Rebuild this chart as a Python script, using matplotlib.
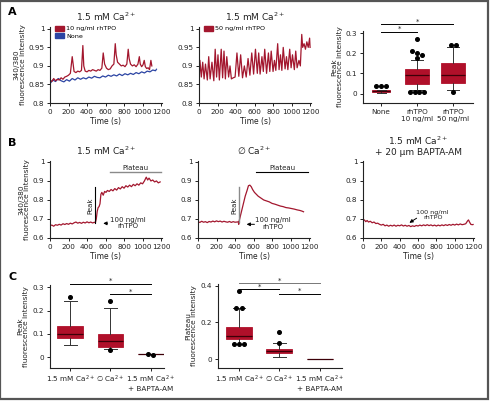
import numpy as np
import matplotlib
matplotlib.use("Agg")
from matplotlib import pyplot as plt
from matplotlib.patches import Patch, Rectangle

# ---- traces (time in s, 340/380 ratio) ----
a1_red_t = [0,20,40,60,80,100,120,140,160,180,200,220,240,250,260,280,300,320,340,355,365,380,400,420,440,460,480,500,520,540,560,575,590,610,630,650,670,690,705,715,730,750,770,790,810,830,845,855,870,890,910,930,950,965,975,990,1005,1018,1030,1045,1060,1075,1090,1100]
a1_red_v = [0.862,0.858,0.866,0.860,0.864,0.862,0.868,0.864,0.870,0.872,0.875,0.880,0.925,0.905,0.885,0.882,0.886,0.884,0.888,0.955,0.900,0.886,0.884,0.888,0.886,0.890,0.888,0.886,0.890,0.888,0.894,0.935,0.905,0.894,0.890,0.892,0.900,0.905,0.960,0.930,0.910,0.905,0.900,0.902,0.898,0.905,0.945,0.920,0.905,0.900,0.903,0.898,0.905,0.925,0.905,0.898,0.903,0.915,0.898,0.893,0.895,0.890,0.915,0.900]
a1_blue_t = [0,30,60,90,120,150,180,210,240,270,300,330,360,390,420,450,480,510,540,570,600,630,660,690,720,750,780,810,840,870,900,930,960,990,1020,1050,1080,1110,1140,1150]
a1_blue_v = [0.852,0.862,0.858,0.866,0.860,0.857,0.863,0.859,0.866,0.862,0.868,0.864,0.868,0.865,0.870,0.867,0.872,0.869,0.868,0.873,0.870,0.875,0.872,0.876,0.873,0.878,0.874,0.879,0.876,0.880,0.877,0.882,0.879,0.884,0.881,0.886,0.884,0.889,0.887,0.891]

a2_t = [0,10,25,40,55,70,90,105,120,140,160,175,190,205,220,240,255,270,285,300,320,335,350,370,390,410,430,450,470,490,510,530,550,570,590,610,630,645,660,680,695,710,730,750,765,780,800,815,830,850,865,880,895,910,930,945,960,980,995,1010,1030,1045,1060,1080,1095,1110,1120,1135,1150,1165,1180,1195,1200]
a2_v = [0.850,0.915,0.870,0.910,0.865,0.905,0.862,0.925,0.865,0.910,0.860,0.945,0.870,0.930,0.862,0.945,0.868,0.940,0.865,0.925,0.870,0.900,0.865,0.868,0.870,0.935,0.872,0.930,0.868,0.900,0.870,0.920,0.875,0.935,0.878,0.945,0.880,0.935,0.878,0.925,0.885,0.945,0.880,0.935,0.885,0.940,0.885,0.915,0.888,0.960,0.890,0.930,0.888,0.950,0.892,0.925,0.890,0.945,0.895,0.930,0.890,0.940,0.895,0.915,0.900,0.985,0.950,0.960,0.945,0.965,0.950,0.975,0.950]

b1_t = [0,20,40,60,80,100,120,140,160,180,200,220,240,260,280,300,320,340,360,380,400,420,440,460,480,490,500,510,520,530,540,550,560,575,590,605,620,640,660,680,700,720,740,760,780,800,820,840,860,880,900,920,940,960,980,1000,1020,1040,1055,1070,1090,1110,1130,1150,1170,1190]
b1_v = [0.665,0.668,0.662,0.670,0.667,0.672,0.668,0.675,0.671,0.676,0.672,0.678,0.674,0.680,0.684,0.678,0.682,0.677,0.683,0.679,0.685,0.680,0.684,0.679,0.683,0.680,0.700,0.740,0.760,0.765,0.780,0.830,0.840,0.825,0.845,0.840,0.850,0.845,0.855,0.848,0.860,0.852,0.865,0.858,0.870,0.862,0.875,0.868,0.878,0.870,0.882,0.875,0.885,0.878,0.890,0.885,0.900,0.920,0.905,0.915,0.900,0.905,0.895,0.900,0.890,0.895]

b2_t = [0,20,40,60,80,100,120,140,160,180,200,220,240,260,280,300,320,340,360,380,400,420,435,440,445,450,470,490,510,530,545,560,575,590,610,630,650,680,710,740,770,800,830,860,890,920,950,980,1010,1040,1070,1100,1120,1140]
b2_v = [0.685,0.682,0.688,0.683,0.686,0.681,0.687,0.684,0.689,0.685,0.690,0.686,0.689,0.684,0.688,0.685,0.683,0.687,0.682,0.686,0.683,0.684,0.685,0.672,0.690,0.700,0.740,0.780,0.820,0.850,0.875,0.878,0.870,0.855,0.840,0.830,0.820,0.810,0.800,0.795,0.790,0.782,0.778,0.773,0.768,0.765,0.760,0.758,0.755,0.752,0.748,0.745,0.742,0.738]

b3_t = [0,15,30,45,60,80,100,120,140,160,180,200,220,240,260,280,300,320,340,360,380,400,420,440,460,480,500,520,540,560,580,600,620,640,660,680,700,720,740,760,780,800,820,840,860,880,900,920,940,960,980,1000,1020,1040,1060,1080,1100,1120,1140,1150,1160,1175,1190,1200]
b3_v = [0.690,0.695,0.686,0.692,0.684,0.688,0.680,0.684,0.676,0.678,0.672,0.668,0.672,0.664,0.668,0.662,0.667,0.663,0.668,0.662,0.667,0.664,0.669,0.663,0.667,0.662,0.666,0.660,0.664,0.661,0.666,0.663,0.668,0.664,0.669,0.665,0.670,0.665,0.669,0.664,0.668,0.663,0.668,0.664,0.669,0.665,0.670,0.666,0.671,0.667,0.672,0.668,0.673,0.669,0.674,0.670,0.672,0.675,0.690,0.695,0.685,0.672,0.670,0.671]

# ---- box plot summaries ----
a3_labels = ["None", "rhTPO\n10 ng/ml", "rhTPO\n50 ng/ml"]
a3_q1 = [0.010, 0.050, 0.055]
a3_med = [0.015, 0.090, 0.090]
a3_q3 = [0.020, 0.120, 0.150]
a3_lo = [0.005, 0.020, 0.020]
a3_hi = [0.020, 0.165, 0.230]
a3_fliers = [[0.040, 0.037, 0.040],
             [0.270, 0.210, 0.200, 0.190, 0.175, 0.010, 0.010, 0.010, 0.010],
             [0.240, 0.240, 0.010]]

c_labels = ["1.5 mM Ca$^{2+}$", "\u2205 Ca$^{2+}$", "1.5 mM Ca$^{2+}$\n+ BAPTA-AM"]
c1_q1 = [0.080, 0.045, 0.012]
c1_med = [0.100, 0.070, 0.012]
c1_q3 = [0.135, 0.100, 0.012]
c1_lo = [0.050, 0.035, 0.012]
c1_hi = [0.240, 0.210, 0.012]
c1_fliers = [[0.260], [0.240, 0.030], [0.010, 0.014]]

c2_q1 = [0.110, 0.035, 0.0]
c2_med = [0.125, 0.045, 0.0]
c2_q3 = [0.175, 0.055, 0.0]
c2_lo = [0.080, 0.010, 0.0]
c2_hi = [0.280, 0.090, 0.0]
c2_fliers = [[0.370, 0.280, 0.280, 0.080, 0.080, 0.080], [0.150, 0.090], []]

RED = "#a3172e"
BLUE = "#2b44a3"
BOXRED = "#b0102a"
TXT = "#222222"

plt.rcParams['font.family'] = ['DejaVu Sans']
plt.rcParams['mathtext.default'] = 'regular'

fig = plt.figure(figsize=(4.9, 4.01), dpi=100)
W, H = 490.0, 401.0


def add_ax(x0, x1, y0, y1):
    # pixel box -> figure fraction
    return fig.add_axes([x0 / W, 1 - y1 / H, (x1 - x0) / W, (y1 - y0) / H])


def style(ax):
    for s in ['top', 'right']:
        ax.spines[s].set_visible(False)
    for s in ['left', 'bottom']:
        ax.spines[s].set_linewidth(0.8)
        ax.spines[s].set_color(TXT)
    ax.tick_params(direction='out', length=2.5, width=0.7, labelsize=5.2, pad=1.5, colors=TXT)


def trace_ax(ax, ylo, yticks, ylabels):
    style(ax)
    ax.set_xlim(0, 1210)
    ax.set_xticks(range(0, 1201, 200))
    ax.set_ylim(ylo, yticks[-1] + 0.005)
    ax.set_yticks(yticks)
    ax.set_yticklabels(ylabels)
    ax.set_xlabel("Time (s)", fontsize=5.5, labelpad=2, color=TXT)


def jitter(vals, pos, step=0.13, tol=0.012):
    # points closer than tol are spread side by side
    xs, ys = [], []
    groups = []
    for v in sorted(vals, reverse=True):
        if groups and abs(groups[-1][-1] - v) <= tol:
            groups[-1].append(v)
        else:
            groups.append([v])
    for g in groups:
        n = len(g)
        for i, v in enumerate(g):
            xs.append(pos + (i - (n - 1) / 2) * step)
            ys.append(v)
    return xs, ys


def boxes(ax, q1, med, q3, lo, hi, fliers, width):
    stats = []
    for i in range(len(med)):
        stats.append(dict(q1=q1[i], med=med[i], q3=q3[i], whislo=lo[i], whishi=hi[i], fliers=[]))
    pos = list(range(1, len(med) + 1))
    ax.bxp(stats, positions=pos, widths=width, patch_artist=True, showfliers=False,
           boxprops=dict(facecolor=BOXRED, edgecolor=BOXRED, linewidth=0.6),
           medianprops=dict(color="#3c0008", linewidth=0.9),
           whiskerprops=dict(color="#333333", linewidth=0.7),
           capprops=dict(color="#333333", linewidth=0.7))
    for p, f in zip(pos, fliers):
        xs, ys = jitter(f, p)
        ax.plot(xs, ys, 'o', color='black', markersize=2.6, clip_on=False, zorder=5)


def sig(ax, x0, x1, y, color='black'):
    ax.plot([x0, x1], [y, y], color=color, lw=0.7, clip_on=False)
    ax.text((x0 + x1) / 2, y, "*", ha='center', va='bottom', fontsize=5, color=TXT)


tfont = dict(fontsize=6.5, color=TXT)
ylab = "340/380\nfluorescence intensity"

# ---------------- A ----------------
ax = add_ax(50, 162, 27, 103)
trace_ax(ax, 0.8, [0.8, 0.85, 0.9, 0.95, 1.0], ["0.8", "0.85", "0.9", "0.95", "1"])
ax.plot(a1_blue_t, a1_blue_v, color=BLUE, lw=0.9)
ax.plot(a1_red_t, a1_red_v, color=RED, lw=0.9)
ax.set_ylabel(ylab, fontsize=5.3, labelpad=2, color=TXT, linespacing=1.0)
ax.legend(handles=[Patch(color=RED, label="10 ng/ml rhTPO"), Patch(color=BLUE, label="None")],
          loc='upper left', bbox_to_anchor=(0.02, 1.06), frameon=False, fontsize=4.6,
          handlelength=1.3, handleheight=0.8, handletextpad=0.4, labelspacing=0.3, borderpad=0)
ax.set_title("1.5 mM Ca$^{2+}$", pad=4, **tfont)

ax = add_ax(199, 311, 27, 103)
trace_ax(ax, 0.8, [0.8, 0.85, 0.9, 0.95, 1.0], ["0.8", "0.85", "0.9", "0.95", "1"])
ax.plot(a2_t, a2_v, color=RED, lw=0.9)
ax.legend(handles=[Patch(color=RED, label="50 ng/ml rhTPO")],
          loc='upper left', bbox_to_anchor=(0.02, 1.06), frameon=False, fontsize=4.6,
          handlelength=1.3, handleheight=0.8, handletextpad=0.4, borderpad=0)
ax.set_title("1.5 mM Ca$^{2+}$", pad=4, **tfont)

ax = add_ax(363, 473, 31, 103)
style(ax)
boxes(ax, a3_q1, a3_med, a3_q3, a3_lo, a3_hi, a3_fliers, [0.5, 0.65, 0.65])
ax.set_xlim(0.5, 3.55)
ax.set_ylim(-0.046, 0.31)
ax.set_yticks([0, 0.1, 0.2, 0.3])
ax.set_yticklabels(["0", "0.1", "0.2", "0.3"])
ax.set_xticks([1, 2, 3])
ax.set_xticklabels(a3_labels, fontsize=5.2, linespacing=1.3)
ax.set_ylabel("Peak\nfluorescence intensity", fontsize=5.3, labelpad=2, color=TXT, linespacing=1.0)
sig(ax, 1, 3, 0.343)
sig(ax, 1, 2, 0.305)

# ---------------- B ----------------
bt = [0.6, 0.7, 0.8, 0.9, 1.0]
bl = ["0.6", "0.7", "0.8", "0.9", "1"]

ax = add_ax(50, 162, 161, 238)
trace_ax(ax, 0.6, bt, bl)
ax.plot(b1_t, b1_v, color=RED, lw=0.9)
ax.set_ylabel(ylab, fontsize=5.3, labelpad=2, color=TXT, linespacing=1.0)
ax.set_title("1.5 mM Ca$^{2+}$", pad=4, **tfont)
ax.plot([482, 482], [0.68, 0.868], color='black', lw=0.8)
ax.text(440, 0.77, "Peak", rotation=90, ha='center', va='center', fontsize=5, color=TXT)
ax.plot([643, 1200], [0.947, 0.947], color='#8a8a8a', lw=1.0, clip_on=False)
ax.text(920, 0.955, "Plateau", ha='center', va='bottom', fontsize=5, color=TXT)
ax.annotate("", xy=(545, 0.677), xytext=(650, 0.677),
            arrowprops=dict(arrowstyle='-|>', color='black', lw=0.7, mutation_scale=5))
ax.text(840, 0.68, "100 ng/ml\nrhTPO", ha='center', va='center', fontsize=5, color=TXT, linespacing=1.1)

ax = add_ax(198, 310, 161, 238)
trace_ax(ax, 0.6, bt, bl)
ax.plot(b2_t, b2_v, color=RED, lw=0.9)
ax.set_title("\u2205 Ca$^{2+}$", pad=4, **tfont)
ax.plot([439, 439], [0.685, 0.868], color='#8a8a8a', lw=1.0)
ax.text(395, 0.77, "Peak", rotation=90, ha='center', va='center', fontsize=5, color=TXT)
ax.plot([632, 1190], [0.947, 0.947], color='black', lw=0.8, clip_on=False)
ax.text(910, 0.955, "Plateau", ha='center', va='bottom', fontsize=5, color=TXT)
ax.annotate("", xy=(495, 0.672), xytext=(640, 0.672),
            arrowprops=dict(arrowstyle='-|>', color='black', lw=0.7, mutation_scale=5))
ax.text(810, 0.675, "100 ng/ml\nrhTPO", ha='center', va='center', fontsize=5, color=TXT, linespacing=1.1)

ax = add_ax(363, 474, 161, 238)
trace_ax(ax, 0.6, bt, bl)
ax.plot(b3_t, b3_v, color=RED, lw=0.9)
ax.set_title("1.5 mM Ca$^{2+}$\n+ 20 \u03bcm BAPTA-AM", pad=4, linespacing=1.15, **tfont)
ax.annotate("", xy=(480, 0.672), xytext=(610, 0.712),
            arrowprops=dict(arrowstyle='-|>', color='black', lw=0.7, mutation_scale=5))
ax.text(760, 0.72, "100 ng/ml\nrhTPO", ha='center', va='center', fontsize=4.6, color=TXT, linespacing=1.1)

# ---------------- C ----------------
ax = add_ax(50, 164, 285, 368)
style(ax)
boxes(ax, c1_q1, c1_med, c1_q3, c1_lo, c1_hi, c1_fliers, 0.64)
ax.set_xlim(0.5, 3.33)
ax.set_ylim(-0.047, 0.31)
ax.set_yticks([0, 0.1, 0.2, 0.3])
ax.set_yticklabels(["0", "0.1", "0.2", "0.3"])
ax.set_xticks([1, 2, 3])
ax.set_xticklabels(c_labels, fontsize=5.2, linespacing=1.3)
ax.set_ylabel("Peak\nfluorescence intensity", fontsize=5.3, labelpad=3, color=TXT, linespacing=1.0)
sig(ax, 1, 3, 0.315)
sig(ax, 2, 3, 0.27)

ax = add_ax(218, 342, 284, 368)
style(ax)
boxes(ax, c2_q1, c2_med, c2_q3, c2_lo, c2_hi, c2_fliers, 0.64)
ax.set_xlim(0.48, 3.55)
ax.set_ylim(-0.049, 0.41)
ax.set_yticks([0, 0.2, 0.4])
ax.set_yticklabels(["0", "0.2", "0.4"])
ax.set_xticks([1, 2, 3])
ax.set_xticklabels(c_labels, fontsize=5.2, linespacing=1.3)
ax.set_ylabel("Plateau\nfluorescence intensity", fontsize=5.3, labelpad=3, color=TXT, linespacing=1.0)
sig(ax, 1, 3, 0.414, color='#777777')
sig(ax, 1, 2, 0.381)
sig(ax, 2, 3, 0.354)

# panel letters
for lab, y in [("A", 12), ("B", 143), ("C", 277)]:
    fig.text(8 / W, 1 - y / H, lab, fontsize=8, fontweight='bold', va='center', ha='left')

# frame around the whole figure
fig.add_artist(Rectangle((0.001, 0.004), 0.995, 0.994, transform=fig.transFigure,
                         fill=False, edgecolor='#555555', lw=1.6))

fig.savefig("out.png", dpi=100)
